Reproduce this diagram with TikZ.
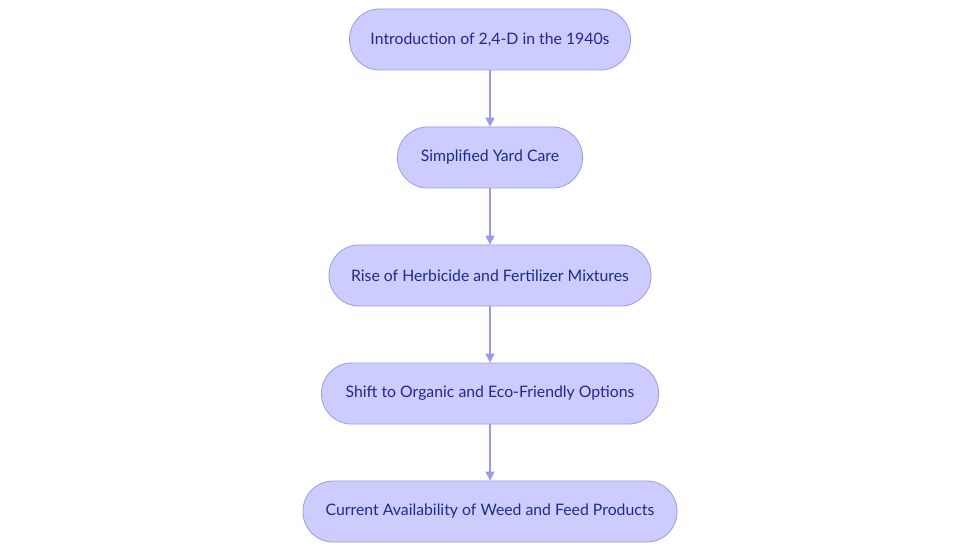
\documentclass[tikz,border=0pt]{standalone}
\usepackage{fontspec}
\setmainfont{Lato}
\usetikzlibrary{arrows.meta}
\definecolor{nfill}{HTML}{CCCCFF}
\definecolor{nline}{HTML}{9A9AEA}
\definecolor{ntext}{HTML}{1E2A8C}
\begin{document}
\begin{tikzpicture}[x=1pt,y=-1pt,
  box/.style={draw=nline,fill=nfill,rounded corners=30pt,minimum height=61pt,
    text=ntext,font=\fontsize{15.8}{18}\selectfont,inner sep=0pt,line width=0.8pt},
  arr/.style={draw=nline,line width=1.3pt,-{Triangle[length=9pt,width=9pt]}}]
\useasboundingbox[fill=white] (0,0) rectangle (980,553);
\node[box,minimum width=281pt] (a) at (490,39.5) {Introduction of 2,4-D in the 1940s};
\node[box,minimum width=185pt] (b) at (490,157.5) {Simplified Yard Care};
\node[box,minimum width=322pt] (c) at (490,275.5) {Rise of Herbicide and Fertilizer Mixtures};
\node[box,minimum width=337pt] (d) at (490,393.5) {Shift to Organic and Eco-Friendly Options};
\node[box,minimum width=374pt] (e) at (490,511.5) {Current Availability of Weed and Feed Products};
\draw[arr] (a) -- (b);
\draw[arr] (b) -- (c);
\draw[arr] (c) -- (d);
\draw[arr] (d) -- (e);
\end{tikzpicture}
\end{document}
